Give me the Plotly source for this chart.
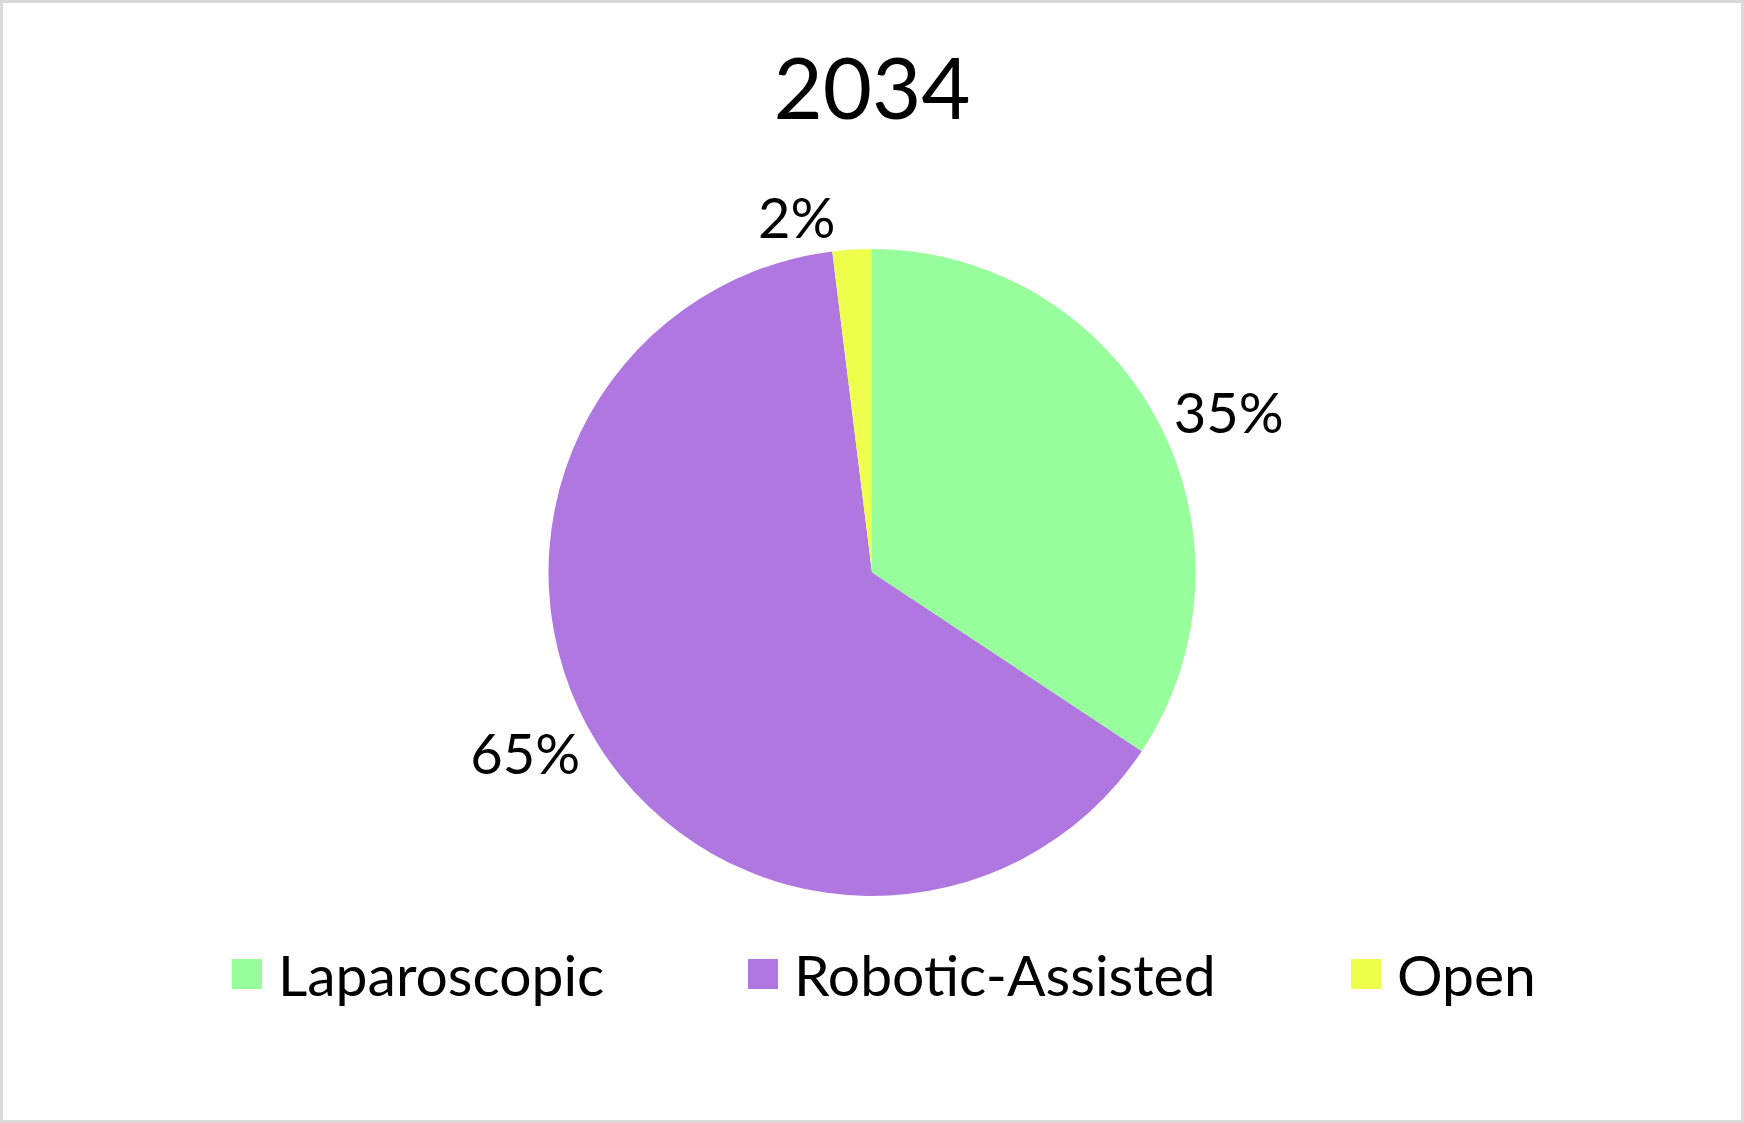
import plotly.graph_objects as go

title_text = "2034"
categories = ["Laparoscopic", "Robotic-Assisted", "Open"]
values = [35, 65, 2]
colors = ["#97FF9B", "#B077E0", "#EEFF4C"]

W, H = 1744, 1123
FONT = "Lato"

fig = go.Figure()
fig.add_trace(go.Pie(
    labels=categories,
    values=values,
    sort=False,
    direction="clockwise",
    rotation=0,
    marker=dict(colors=colors, line=dict(width=0)),
    texttemplate="%{value}%",
    textposition="outside",
    textfont=dict(family=FONT, size=56, color="#000000"),
    domain=dict(x=[548 / W, 1196 / W], y=[1 - 896 / H, 1 - 249 / H]),
    showlegend=False,
    hoverinfo="label+value",
))

# Custom legend (large square swatches)
legend_x = [232, 748, 1351]
legend_y = 974
sw = 30
shapes = []
annotations = []
for name, col, lx in zip(categories, colors, legend_x):
    shapes.append(dict(type="rect", xref="paper", yref="paper",
                       x0=lx / W, x1=(lx + sw) / W,
                       y0=1 - (legend_y + sw / 2) / H, y1=1 - (legend_y - sw / 2) / H,
                       fillcolor=col, line=dict(width=0)))
    annotations.append(dict(text=name, xref="paper", yref="paper",
                            x=(lx + sw + 14) / W, y=1 - legend_y / H,
                            xanchor="left", yanchor="middle", showarrow=False,
                            font=dict(family=FONT, size=57, color="#000000")))

# outer border
shapes.append(dict(type="rect", xref="paper", yref="paper", x0=0, x1=1, y0=0, y1=1,
                   line=dict(color="#D9D9D9", width=6), fillcolor="rgba(0,0,0,0)"))

fig.update_layout(
    width=W, height=H,
    margin=dict(l=0, r=0, t=0, b=0),
    paper_bgcolor="#FFFFFF",
    plot_bgcolor="#FFFFFF",
    title=dict(text=title_text, x=0.5, xanchor="center", y=1 - 89 / H, yanchor="middle",
               yref="container", font=dict(family=FONT, size=85, color="#000000")),
    shapes=shapes,
    annotations=annotations,
    showlegend=False,
)

fig.write_html("out.html", config={"displayModeBar": False},
               post_script="document.body.style.margin='0';")
